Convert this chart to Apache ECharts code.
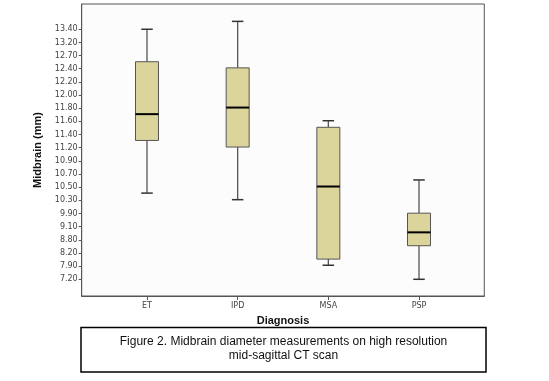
<!DOCTYPE html>
<html>
<head>
<meta charset="utf-8">
<script src="https://cdn.jsdelivr.net/npm/echarts@6/dist/echarts.min.js"></script>
<style>html,body{margin:0;padding:0;background:#fff}#c{width:549px;height:381px}</style>
</head>
<body>
<div id="c"></div>
<script>
// Categories (x axis)
const categories = ['ET', 'IPD', 'MSA', 'PSP'];
// Y-axis tick labels (bottom to top), drawn evenly spaced as in the original figure
const yTickLabels = ['7.20','7.90','8.20','8.80','9.10','9.90','10.30','10.50','10.70','10.90',
  '11.20','11.40','11.60','11.80','12.00','12.20','12.40','12.70','13.20','13.40'];
// Box statistics in mm: [min, Q1, median, Q3, max]
const etStats  = [10.41, 11.31, 11.71, 12.56, 13.40];
const ipdStats = [10.31, 11.21, 11.81, 12.42, 13.52];
const msaStats = [7.92, 8.06, 10.51, 11.51, 11.61];
const pspStats = [7.20, 8.53, 8.97, 9.91, 10.61];
const allStats = [etStats, ipdStats, msaStats, pspStats];

// Map mm value onto the evenly spaced tick-label scale (piecewise linear)
const tickVals = yTickLabels.map(Number);
function toAxis(v) {
  const n = tickVals.length;
  let i = 0;
  if (v <= tickVals[0]) i = 0;
  else if (v >= tickVals[n - 1]) i = n - 2;
  else { while (i < n - 2 && v > tickVals[i + 1]) i++; }
  return i + (v - tickVals[i]) / (tickVals[i + 1] - tickVals[i]);
}
const seriesData = allStats.map((s, k) => [k].concat(s.map(toAxis)));
const idx = yTickLabels.map((_, i) => i);

const chart = echarts.init(document.getElementById('c'), null, {renderer: 'canvas'});
const BOX_W = 23, CAP_W = 11.5;
chart.setOption({
  animation: false,
  backgroundColor: '#ffffff',
  grid: {left: 81.7, top: 4, right: 64.7, bottom: 85, show: true,
    borderColor: '#555', borderWidth: 1, backgroundColor: '#fcfcfc'},
  xAxis: {
    type: 'value', min: -0.72, max: 3.72,
    name: 'Diagnosis', nameLocation: 'middle', nameGap: 19,
    nameTextStyle: {fontFamily: 'Liberation Sans', fontWeight: 'bold', fontSize: 11, color: '#111'},
    axisLine: {show: true, onZero: false, lineStyle: {color: '#555', width: 1}},
    axisTick: {show: true, length: 4, customValues: [0,1,2,3], lineStyle: {color: '#555'}},
    axisLabel: {customValues: [0,1,2,3], formatter: v => categories[Math.round(v)],
      fontFamily: 'DejaVu Sans', fontSize: 8, color: '#444', margin: 6},
    splitLine: {show: false}
  },
  yAxis: {
    type: 'value', min: -1.27, max: 20.92,
    name: 'Midbrain (mm)', nameLocation: 'middle', nameGap: 32, nameRotate: 90,
    nameTextStyle: {fontFamily: 'Liberation Sans', fontWeight: 'bold', fontSize: 11, color: '#111'},
    axisLine: {show: true, onZero: false, lineStyle: {color: '#555', width: 1}},
    axisTick: {show: true, length: 3, customValues: idx, lineStyle: {color: '#555'}},
    axisLabel: {customValues: idx, formatter: v => yTickLabels[Math.round(v)],
      fontFamily: 'DejaVu Sans', fontSize: 8, color: '#444', margin: 4},
    splitLine: {show: false}
  },
  series: [{
    type: 'custom',
    data: seriesData,
    encode: {x: 0, y: [1, 2, 3, 4, 5]},
    renderItem: function (params, api) {
      const x = api.value(0);
      const pMin = api.coord([x, api.value(1)]);
      const pQ1 = api.coord([x, api.value(2)]);
      const pMed = api.coord([x, api.value(3)]);
      const pQ3 = api.coord([x, api.value(4)]);
      const pMax = api.coord([x, api.value(5)]);
      const cx = pMed[0];
      const wStyle = {stroke: '#555', lineWidth: 1.3};
      return {
        type: 'group',
        children: [
          {type: 'line', shape: {x1: cx, y1: pMax[1], x2: cx, y2: pQ3[1]}, style: wStyle},
          {type: 'line', shape: {x1: cx, y1: pQ1[1], x2: cx, y2: pMin[1]}, style: wStyle},
          {type: 'line', shape: {x1: cx - CAP_W / 2, y1: pMax[1], x2: cx + CAP_W / 2, y2: pMax[1]}, style: {stroke: '#333', lineWidth: 1.5}},
          {type: 'line', shape: {x1: cx - CAP_W / 2, y1: pMin[1], x2: cx + CAP_W / 2, y2: pMin[1]}, style: {stroke: '#333', lineWidth: 1.5}},
          {type: 'rect', shape: {x: cx - BOX_W / 2, y: pQ3[1], width: BOX_W, height: pQ1[1] - pQ3[1]},
            style: {fill: '#dbd59c', stroke: '#555', lineWidth: 1}},
          {type: 'line', shape: {x1: cx - BOX_W / 2, y1: pMed[1], x2: cx + BOX_W / 2, y2: pMed[1]}, style: {stroke: '#000', lineWidth: 2}}
        ]
      };
    }
  }],
  graphic: [
    {type: 'rect', shape: {x: 81, y: 327.5, width: 405, height: 44.5}, style: {fill: '#fff', stroke: '#000', lineWidth: 1.5}},
    {type: 'text', x: 283.5, y: 341.5, style: {text: 'Figure 2. Midbrain diameter measurements on high resolution',
      font: '12px "Liberation Sans"', fill: '#111', textAlign: 'center', textVerticalAlign: 'middle'}},
    {type: 'text', x: 283.5, y: 356, style: {text: 'mid-sagittal CT scan',
      font: '12px "Liberation Sans"', fill: '#111', textAlign: 'center', textVerticalAlign: 'middle'}}
  ]
});
</script>
</body>
</html>
